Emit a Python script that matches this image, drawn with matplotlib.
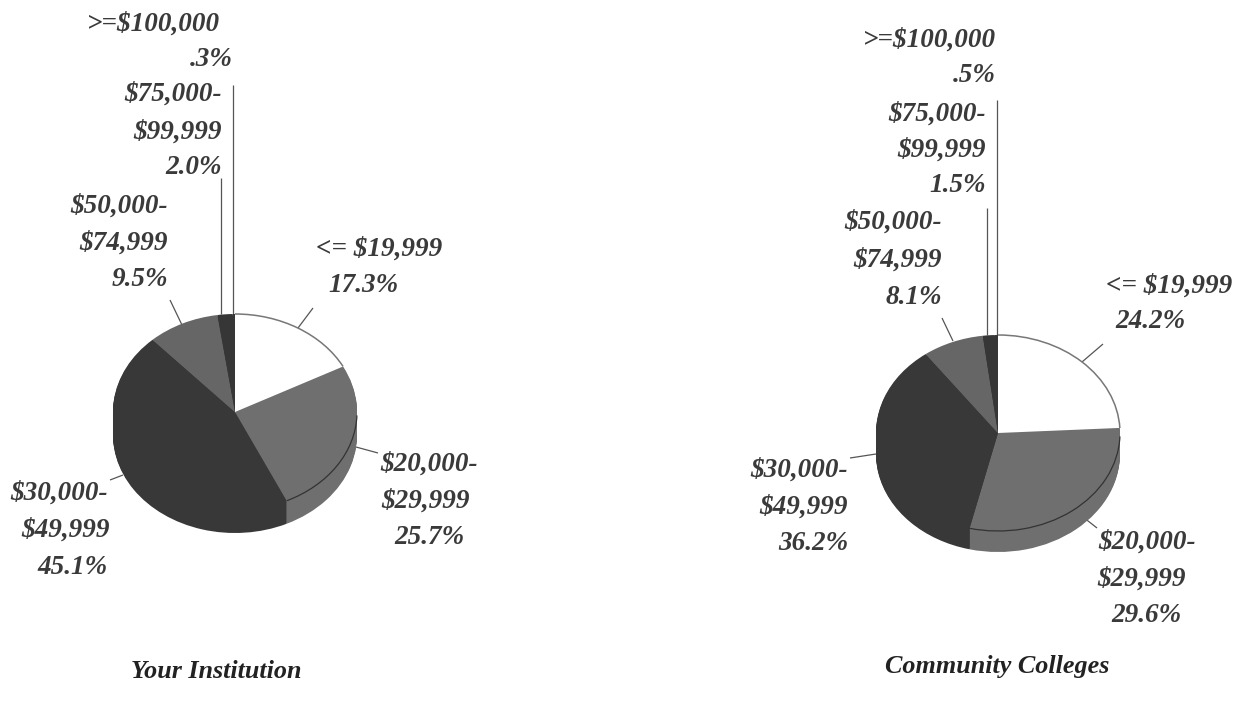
import matplotlib
matplotlib.use("Agg")
import matplotlib.pyplot as plt
from matplotlib.patches import Arc

W, H = 1242, 708
categories = ["<= $19,999", "$20,000-$29,999", "$30,000-$49,999",
              "$50,000-$74,999", "$75,000-$99,999", ">=$100,000"]
institution = [17.3, 25.7, 45.1, 9.5, 2.0, 0.3]
colleges = [24.2, 29.6, 36.2, 8.1, 1.5, 0.5]
slice_colors = ["#ffffff", "#6f6f6f", "#383838", "#666666", "#363636", "#363636"]

fig = plt.figure(figsize=(W / 100, H / 100), dpi=100, facecolor="white")
bg = fig.add_axes([0, 0, 1, 1])
bg.set_xlim(0, W)
bg.set_ylim(H, 0)
bg.axis("off")


def draw_pie(values, cx, cy, rx=122, ry=98, depth=23):
    pad = 4
    x0, x1 = cx - rx - pad, cx + rx + pad
    y0, y1 = cy - ry - pad, cy + ry + depth + pad
    ax = fig.add_axes([x0 / W, 1 - y1 / H, (x1 - x0) / W, (y1 - y0) / H])
    for d in range(depth, -1, -1):
        ax.pie(values, colors=slice_colors, startangle=90, counterclock=False,
               center=(0, -d / ry), radius=1, wedgeprops=dict(linewidth=0))
    # rim of the white slice and inner arc of the second slice
    a0 = 90 - values[0] * 3.6
    ax.add_patch(Arc((0, 0), 2, 2, theta1=a0, theta2=90, color="#777777", lw=1.1))
    a1 = a0 - values[1] * 3.6
    ax.add_patch(Arc((0, 0), 2, 2, theta1=a1, theta2=-2 if a0 > -2 else a0, color="#333333", lw=0.9))
    ax.set_aspect("auto")
    ax.set_xlim((x0 - cx) / rx, (x1 - cx) / rx)
    ax.set_ylim(-(y1 - cy) / ry, (cy - y0) / ry)
    ax.axis("off")
    ax.patch.set_alpha(0)


draw_pie(institution, 235, 412)
draw_pie(colleges, 998, 433, depth=21)

leaders = [
    (233, 85, 233, 314), (221, 178, 221, 314), (170, 300, 182, 325), (298, 328, 313, 308),
    (356, 447, 378, 453), (110, 480, 123, 475),
    (997, 100, 997, 335), (987, 208, 987, 335), (942, 318, 953, 341), (1082, 362, 1103, 344),
    (850, 458, 876, 454), (1083, 517, 1097, 528),
]
for x1, y1, x2, y2 in leaders:
    bg.plot([x1, x2], [y1, y2], color="#555555", lw=0.9, solid_capstyle="butt")

FONT = dict(family="Liberation Serif", style="italic", weight="bold", color="#3a3a3a",
            fontsize=19.5, va="center")
labels = [
    (">=$100,000", 220, 24), (".3%", 233, 60),
    ("$75,000-", 222, 94), ("$99,999", 222, 132), ("2.0%", 222, 168),
    ("$50,000-", 168, 206), ("$74,999", 168, 243), ("9.5%", 168, 280),
    ("<= $19,999", 442, 249), ("17.3%", 399, 285),
    ("$20,000-", 478, 464), ("$29,999", 470, 501), ("25.7%", 465, 537),
    ("$30,000-", 108, 493), ("$49,999", 110, 530), ("45.1%", 108, 567),
    (">=$100,000", 996, 40), (".5%", 996, 76),
    ("$75,000-", 986, 114), ("$99,999", 986, 150), ("1.5%", 986, 186),
    ("$50,000-", 942, 222), ("$74,999", 942, 260), ("8.1%", 942, 297),
    ("<= $19,999", 1232, 286), ("24.2%", 1186, 322),
    ("$30,000-", 848, 470), ("$49,999", 848, 507), ("36.2%", 848, 544),
    ("$20,000-", 1196, 542), ("$29,999", 1186, 579), ("29.6%", 1182, 615),
]
for s, x, y in labels:
    bg.text(x, y, s.replace("$", r"\$"), ha="right", **FONT)

TITLE = dict(FONT, fontsize=18.8, color="#222222", ha="center")
bg.text(216, 671, "Your Institution", **TITLE)
bg.text(997, 666, "Community Colleges", **TITLE)

fig.savefig("out.png", dpi=100)
